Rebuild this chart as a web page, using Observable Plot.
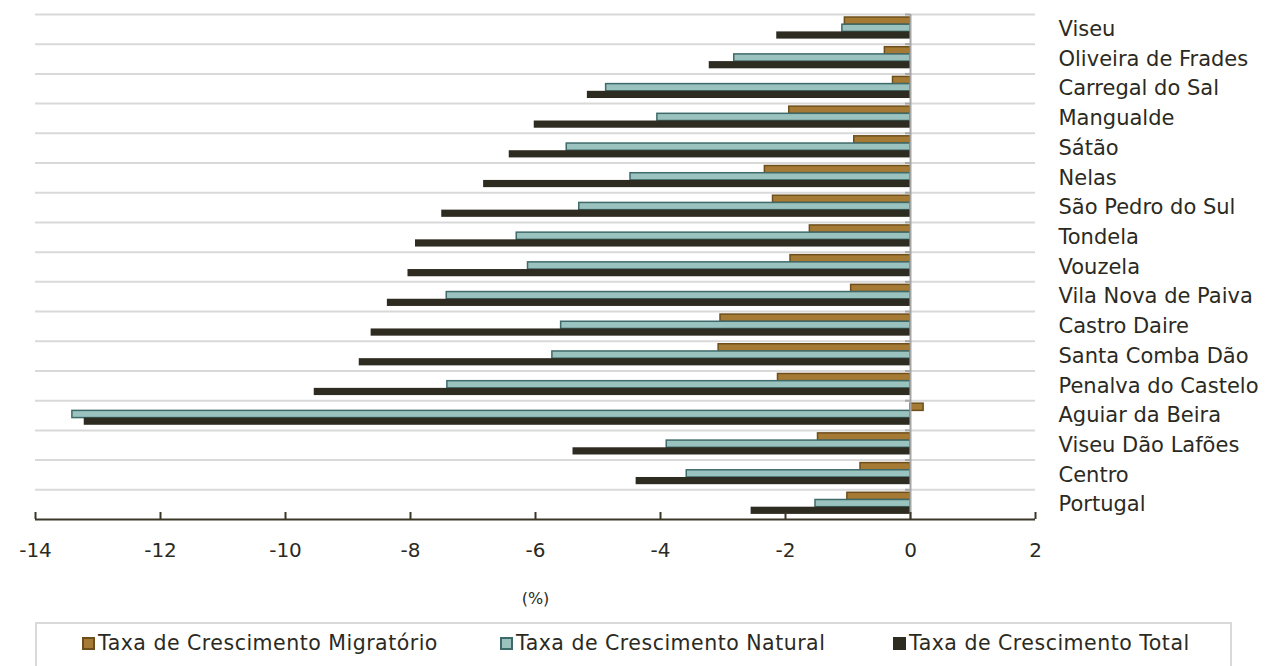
<!DOCTYPE html>
<html>
<head>
<meta charset="utf-8">
<script src="https://cdn.jsdelivr.net/npm/d3@7"></script>
<script src="https://cdn.jsdelivr.net/npm/@observablehq/plot@0.6"></script>
<style>
  html, body { margin: 0; padding: 0; background: #fff; font-family: "DejaVu Sans", sans-serif; color: #2b2a22; }
  #chart { width: 1270px; }
  #chart svg { display: block; }
  #legend { margin-left: 35px; margin-top: 10px; width: 1197px; height: 60px; border: 2px solid #d9d9d9; box-sizing: border-box; position: relative; }
  .item { position: absolute; top: 7px; font-size: 20.5px; letter-spacing: 0.5px; white-space: nowrap; display: flex; align-items: center; }
  .sw { display: inline-block; width: 13px; height: 13px; margin-right: 3px; box-sizing: border-box; border: 2px solid; }
</style>
</head>
<body>
<div id="chart"></div>
<div id="legend"></div>
<script>
const categories = ["Viseu","Oliveira de Frades","Carregal do Sal","Mangualde","Sátão","Nelas","São Pedro do Sul","Tondela","Vouzela","Vila Nova de Paiva","Castro Daire","Santa Comba Dão","Penalva do Castelo","Aguiar da Beira","Viseu Dão Lafões","Centro","Portugal"];
const migratorio = [-1.05,-0.41,-0.28,-1.94,-0.9,-2.33,-2.2,-1.61,-1.92,-0.95,-3.04,-3.07,-2.12,0.21,-1.48,-0.8,-1.01];
const natural    = [-1.09,-2.82,-4.87,-4.05,-5.5,-4.48,-5.3,-6.3,-6.12,-7.42,-5.59,-5.73,-7.41,-13.41,-3.9,-3.58,-1.52];
const total      = [-2.14,-3.22,-5.17,-6.02,-6.42,-6.83,-7.5,-7.92,-8.04,-8.37,-8.63,-8.82,-9.54,-13.22,-5.4,-4.39,-2.55];
const seriesNames = ["Taxa de Crescimento Migratório","Taxa de Crescimento Natural","Taxa de Crescimento Total"];
const xTicks = [-14,-12,-10,-8,-6,-4,-2,0,2];

const fills = ["#a57a35","#9ac2be","#2e2b21"];
const strokes = ["#6e4f1c","#3f6a6a","#2e2b21"];

const W = 1270, H = 612, mt = 14, plotBottom = 519, mb = H - plotBottom;
const bw = (plotBottom - mt) / categories.length;
const barH = 7.2;
const top0 = 3;

const rows = [];
[migratorio, natural, total].forEach((arr, s) => {
  arr.forEach((v, i) => rows.push({cat: categories[i], v, s}));
});

const barMark = (s) => Plot.barX(rows.filter(d => d.s === s), {
  x1: 0, x2: "v", y: "cat",
  fill: fills[s], stroke: strokes[s], strokeWidth: s === 2 ? 0 : 1.5,
  insetTop: top0 + s * barH, insetBottom: bw - top0 - (s + 1) * barH
});

const xmin = -14, xmax = 2;
const pxPerUnit = (1035 - 35) / (xmax - xmin);

const plot = Plot.plot({
  width: W, height: H,
  marginLeft: 35, marginRight: W - 1035, marginTop: mt, marginBottom: mb,
  style: {fontFamily: "DejaVu Sans, sans-serif", fontSize: "18px", color: "#2b2a22", background: "#fff"},
  x: {type: "linear", domain: [xmin, xmax], label: null},
  y: {type: "band", domain: categories, padding: 0, round: false, label: null, axis: null},
  marks: [
    Plot.ruleY(categories, {y: d => d, x1: xmin, x2: xmax, stroke: "#d9d9d9", strokeWidth: 2, dy: -bw / 2}),
    barMark(0), barMark(1), barMark(2),
    Plot.ruleX([0], {stroke: "#a6a6a6", strokeWidth: 2}),
    Plot.ruleY(categories, {y: d => d, x1: -5 / pxPerUnit, x2: 0, dy: -bw / 2, stroke: "#a6a6a6", strokeWidth: 2}),
    Plot.axisX({ticks: xTicks, tickSize: -7, tickPadding: 30, stroke: "#3a3728", strokeWidth: 2,
      tickFormat: d => String(d), fontSize: 20, fill: "#2b2a22", label: null}),
    Plot.ruleY([categories[categories.length - 1]], {y: d => d, x1: xmin, x2: xmax, dy: bw / 2, stroke: "#3a3728", strokeWidth: 2}),
    Plot.text(categories, {x: xmax, y: d => d, text: d => d, textAnchor: "start", dx: 23, fontSize: 21, fill: "#2b2a22", style: {letterSpacing: "0.9px"}}),
    Plot.text(["(%)"], {x: -6, frameAnchor: "bottom", dy: 84, text: d => d, fontSize: 16, fill: "#2b2a22"})
  ]
});

document.getElementById("chart").appendChild(plot);

const legend = document.getElementById("legend");
const lefts = [45, 463, 856];
seriesNames.forEach((n, i) => {
  const it = document.createElement("div");
  it.className = "item";
  it.style.left = lefts[i] + "px";
  const sw = document.createElement("span");
  sw.className = "sw";
  sw.style.background = fills[i];
  sw.style.borderColor = strokes[i];
  it.appendChild(sw);
  it.appendChild(document.createTextNode(n));
  legend.appendChild(it);
});
</script>
</body>
</html>
